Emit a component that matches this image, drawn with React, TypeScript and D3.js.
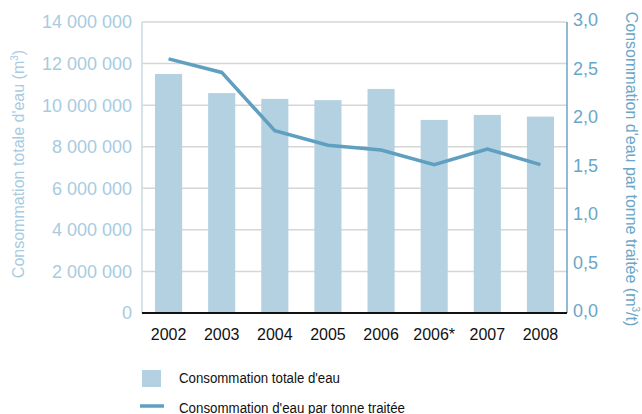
import { useEffect, useRef } from 'react'
import * as d3 from 'd3'

const years = ['2002', '2003', '2004', '2005', '2006', '2006*', '2007', '2008']
const totalWater = [11500000, 10580000, 10300000, 10240000, 10780000, 9290000, 9530000, 9450000]
const waterPerTonne = [2.62, 2.48, 1.88, 1.73, 1.68, 1.53, 1.69, 1.53]
const leftTicks = [0, 2000000, 4000000, 6000000, 8000000, 10000000, 12000000, 14000000]
const rightTicks = [0, 0.5, 1, 1.5, 2, 2.5, 3]

const FONT = '"Liberation Sans", Arial, sans-serif'

export default function App() {
  const svgRef = useRef<SVGSVGElement>(null)

  useEffect(() => {
    if (!svgRef.current) return
    const svg = d3.select(svgRef.current)
    svg.selectAll('*').remove()

    const left = 142
    const right = 567
    const top = 22
    const bottom = 313

    const x = d3.scaleBand().domain(years).range([left, right]).paddingInner(0.49).paddingOuter(0.245)
    const yL = d3.scaleLinear().domain([0, 14000000]).range([bottom, top])
    const yR = d3.scaleLinear().domain([0, 3]).range([bottom, top])

    const fmtL = (v: number) => d3.format(',')(v).replace(/,/g, ' ')
    const fmtR = (v: number) => d3.format('.1f')(v).replace('.', ',')

    // gridlines
    svg.append('g')
      .selectAll('line')
      .data(leftTicks.slice(1))
      .join('line')
      .attr('x1', left)
      .attr('x2', right)
      .attr('y1', d => yL(d))
      .attr('y2', d => yL(d))
      .attr('stroke', '#d6d6d6')
      .attr('stroke-width', 1.5)

    // bars
    svg.append('g')
      .selectAll('rect')
      .data(years)
      .join('rect')
      .attr('x', d => x(d)!)
      .attr('width', x.bandwidth())
      .attr('y', (d, i) => yL(totalWater[i]))
      .attr('height', (d, i) => bottom - yL(totalWater[i]))
      .attr('fill', '#b3d1e1')

    // left axis line
    svg.append('line')
      .attr('x1', left).attr('x2', left).attr('y1', top).attr('y2', bottom)
      .attr('stroke', '#c8dae4').attr('stroke-width', 1.5)

    // right axis line
    svg.append('line')
      .attr('x1', right).attr('x2', right).attr('y1', top).attr('y2', bottom)
      .attr('stroke', '#6aa5c6').attr('stroke-width', 1.5)

    // bottom axis
    svg.append('line')
      .attr('x1', left).attr('x2', right).attr('y1', bottom).attr('y2', bottom)
      .attr('stroke', '#111').attr('stroke-width', 2)

    // line series
    const line = d3.line<number>()
      .x((d, i) => x(years[i])! + x.bandwidth() / 2)
      .y(d => yR(d))
    svg.append('path')
      .datum(waterPerTonne)
      .attr('d', line)
      .attr('fill', 'none')
      .attr('stroke', '#5f9fc0')
      .attr('stroke-width', 3.5)

    // left tick labels
    svg.append('g')
      .selectAll('text')
      .data(leftTicks)
      .join('text')
      .attr('x', 132)
      .attr('y', d => yL(d))
      .attr('dy', '0.36em')
      .attr('text-anchor', 'end')
      .attr('font-family', FONT)
      .attr('font-size', 18)
      .attr('fill', '#a8cbdf')
      .text(d => fmtL(d))

    // right tick labels
    svg.append('g')
      .selectAll('text')
      .data(rightTicks)
      .join('text')
      .attr('x', 573)
      .attr('y', d => yR(d) - 2)
      .attr('dy', '0.36em')
      .attr('font-family', FONT)
      .attr('font-size', 18)
      .attr('fill', '#6aa6c7')
      .text(d => fmtR(d))

    // x labels
    svg.append('g')
      .selectAll('text')
      .data(years)
      .join('text')
      .attr('x', d => x(d)! + x.bandwidth() / 2)
      .attr('y', 340)
      .attr('text-anchor', 'middle')
      .attr('font-family', FONT)
      .attr('font-size', 16)
      .attr('fill', '#111')
      .text(d => d)

    // left title
    const lt = svg.append('text')
      .attr('transform', 'translate(24,164) rotate(-90)')
      .attr('text-anchor', 'middle')
      .attr('font-family', FONT)
      .attr('font-size', 16)
      .attr('fill', '#a8cbdf')
    lt.append('tspan').text("Consommation totale d'eau (m")
    lt.append('tspan').attr('font-size', 10).attr('dy', -6).text('3')
    lt.append('tspan').attr('dy', 6).text(')')

    // right title
    const rt = svg.append('text')
      .attr('transform', 'translate(626,169) rotate(90)')
      .attr('text-anchor', 'middle')
      .attr('font-family', FONT)
      .attr('font-size', 16)
      .attr('fill', '#6aa6c7')
    rt.append('tspan').text("Consommation d'eau par tonne traitée (m")
    rt.append('tspan').attr('font-size', 10).attr('dy', -6).text('3')
    rt.append('tspan').attr('dy', 6).text('/t)')

    // legend
    svg.append('rect')
      .attr('x', 142).attr('y', 370).attr('width', 19).attr('height', 17)
      .attr('fill', '#b3d1e1')
    svg.append('text')
      .attr('x', 179).attr('y', 383)
      .attr('font-family', FONT).attr('font-size', 14).attr('fill', '#111')
      .attr('textLength', 161).attr('lengthAdjust', 'spacingAndGlyphs')
      .text("Consommation totale d'eau")
    svg.append('line')
      .attr('x1', 140).attr('x2', 164).attr('y1', 406).attr('y2', 406)
      .attr('stroke', '#5f9fc0').attr('stroke-width', 3.5)
    svg.append('text')
      .attr('x', 179).attr('y', 413)
      .attr('font-family', FONT).attr('font-size', 14).attr('fill', '#111')
      .attr('textLength', 226).attr('lengthAdjust', 'spacingAndGlyphs')
      .text("Consommation d'eau par tonne traitée")
  }, [])

  return (
    <svg
      ref={svgRef}
      width={642}
      height={414}
      style={{ position: 'absolute', left: 0, top: 0, background: '#fff' }}
    />
  )
}
